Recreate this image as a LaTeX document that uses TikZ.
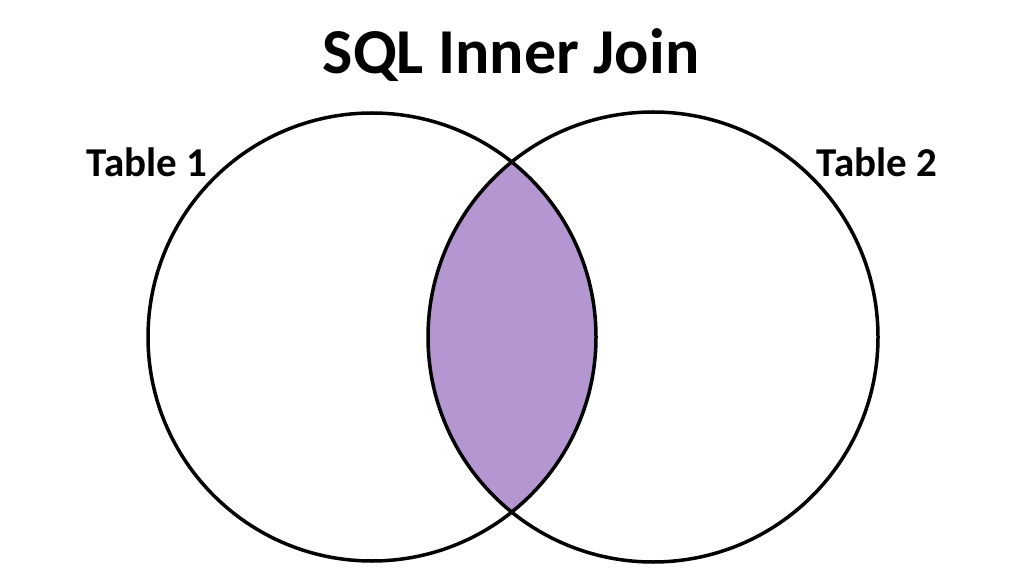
\documentclass[tikz,border=0pt]{standalone}
\usepackage{fontspec}
\setmainfont{Carlito}
\definecolor{lens}{HTML}{B497D0}
\tikzset{lbl/.style={font=\bfseries\fontsize{41}{48}\selectfont},circ/.style={draw=black,line width=3.5pt}}
\begin{document}
\begin{tikzpicture}[x=1pt,y=1pt]
\useasboundingbox (0,0) rectangle (1024,576);
\begin{scope}
\clip (372,239) circle (224);
\fill[lens] (653,239) circle (225);
\end{scope}
\draw[circ] (372,239) circle (224);
\draw[circ] (653,239) circle (225);
\node[font=\bfseries\fontsize{64}{72}\selectfont] (title) at (511,521) {SQL Inner Join};
\node[lbl] (t1) at (147,414) {Table 1};
\node[lbl] (t2) at (877,414) {Table 2};
\end{tikzpicture}
\end{document}
